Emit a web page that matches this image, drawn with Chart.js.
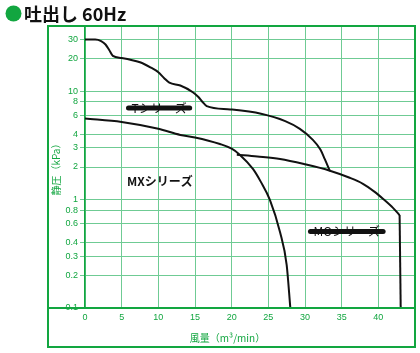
<!DOCTYPE html>
<html>
<head>
<meta charset="utf-8">
<script src="https://cdn.jsdelivr.net/npm/chart.js@4/dist/chart.umd.min.js"></script>
<style>
  html, body { margin: 0; padding: 0; background: #fff; }
</style>
</head>
<body>
<canvas id="grafico" width="420" height="353"></canvas>
<script>
// dados (vazão m3/min x pressão kPa)
const tX = [0, 1.4, 2.2, 2.8, 3.3, 3.8, 5, 7.5, 9, 10, 10.8, 11.5, 13, 14.7, 15.5, 16, 16.6, 19.8, 24, 27.3, 29.3, 31, 32.1, 32.7, 33.4];
const tY = [30, 30, 29, 27, 24, 21.2, 20.3, 18.5, 16.5, 15, 13.2, 12, 11.3, 9.8, 8.8, 8, 7.3, 6.8, 6.2, 5.3, 4.5, 3.6, 2.9, 2.36, 1.83];

const mxX = [0, 5, 10, 13, 15, 18.4, 20, 21.1, 22.9, 24, 25.2, 26.6, 27.5, 28];
const mxY = [5.6, 5.2, 4.5, 3.95, 3.75, 3.26, 2.95, 2.6, 1.92, 1.45, 1.0, 0.5, 0.25, 0.1];

const moX = [20.7, 23.5, 26.6, 30, 33.4, 36, 37.9, 39.5, 40.7, 42, 42.9, 43.05];
const moY = [2.6, 2.5, 2.37, 2.12, 1.85, 1.6, 1.4, 1.18, 1.01, 0.84, 0.72, 0.1];

const yTicks = [0.1, 0.2, 0.3, 0.4, 0.6, 0.8, 1, 2, 3, 4, 6, 8, 10, 20, 30];

const rotulos = ['Tシリーズ', 'MXシリーズ', 'MOシリーズ'];
const rotuloX = [10.1, 10.2, 35.7];
const rotuloY = [7.0, 1.46, 0.507];

const verde = '#12a640';
const verdeGrade = '#6fcb94';
const fonteJP = '"Noto Sans CJK JP", "Liberation Sans", sans-serif';

function pontos(xs, ys) {
  return xs.map((x, i) => ({x: x, y: ys[i]}));
}

function linha(xs, ys, tensao) {
  return {
    data: pontos(xs, ys),
    showLine: true,
    borderColor: '#111',
    borderWidth: 2,
    pointRadius: 0,
    cubicInterpolationMode: tensao === 0 ? 'default' : 'monotone',
    tension: 0,
    fill: false
  };
}

// titulo + moldura + rotulos das séries
const extras = {
  id: 'extras',
  afterDatasetsDraw(chart) {
    const ctx = chart.ctx;
    const sx = chart.scales.x, sy = chart.scales.y;
    ctx.save();
    ctx.textAlign = 'center';
    ctx.textBaseline = 'middle';
    ctx.fillStyle = '#111';
    rotulos.forEach((txt, i) => {
      const px = sx.getPixelForValue(rotuloX[i]);
      const py = sy.getPixelForValue(rotuloY[i]);
      ctx.font = (i === 1 ? 'bold ' : '') + '12px ' + fonteJP;
      ctx.fillText(txt, px, py);
      if (i !== 1) {
        const w = ctx.measureText(txt).width / 2 + 3;
        ctx.strokeStyle = '#111';
        ctx.lineWidth = 5;
        ctx.lineCap = 'round';
        ctx.beginPath();
        ctx.moveTo(px - w, py);
        ctx.lineTo(px + w, py);
        ctx.stroke();
      }
    });
    ctx.restore();
  },
  afterDraw(chart) {
    const ctx = chart.ctx;
    const a = chart.chartArea;
    const baixo = chart.scales.x.bottom;
    ctx.save();
    ctx.strokeStyle = verde;
    ctx.lineWidth = 2;
    ctx.strokeRect(48, a.top, a.right - 48, baixo - a.top);
    ctx.beginPath();
    ctx.moveTo(48, a.bottom);
    ctx.lineTo(a.right, a.bottom);
    ctx.stroke();

    ctx.fillStyle = verde;
    ctx.beginPath();
    ctx.arc(13.5, 13.5, 8, 0, Math.PI * 2);
    ctx.fill();
    ctx.fillStyle = '#111';
    ctx.font = 'bold 18px ' + fonteJP;
    ctx.textAlign = 'left';
    ctx.textBaseline = 'middle';
    ctx.fillText('吐出し 60Hz', 24, 14);
    ctx.restore();
  }
};

var ctx = document.getElementById('grafico').getContext('2d');
var grafico = new Chart(ctx, {
  type: 'scatter',
  data: {
    datasets: [
      linha(tX, tY),
      linha(mxX, mxY),
      linha(moX.slice(0, -1), moY.slice(0, -1)),
      linha(moX.slice(-2), moY.slice(-2), 0)
    ]
  },
  options: {
    responsive: false,
    animation: false,
    layout: { padding: { top: 26, right: 5, bottom: 6, left: 0 } },
    plugins: { legend: { display: false }, tooltip: { enabled: false } },
    scales: {
      x: {
        type: 'linear',
        min: 0,
        max: 45,
        afterFit: s => { s.height = 39; },
        ticks: {
          stepSize: 5,
          color: verde,
          padding: 4,
          font: { size: 9, family: '"Liberation Sans", sans-serif' },
          callback: v => v > 40 ? '' : v
        },
        grid: { color: verdeGrade, lineWidth: 1, drawTicks: false },
        border: { display: false },
        title: {
          display: true,
          text: '風量（m³/min）\u3000\u3000\u3000\u3000\u3000',
          color: verde,
          font: { size: 10, family: fonteJP },
          padding: { top: 0, bottom: 3 }
        }
      },
      y: {
        type: 'logarithmic',
        min: 0.1,
        max: 40,
        afterFit: s => { s.width = 85; },
        afterBuildTicks: s => { s.ticks = yTicks.map(v => ({value: v})); },
        ticks: {
          color: verde,
          padding: 2,
          autoSkip: false,
          font: { size: 9, family: '"Liberation Sans", sans-serif' },
          callback: v => String(v)
        },
        grid: { color: verdeGrade, lineWidth: 1, tickLength: 5 },
        border: { display: true, color: verde, width: 1.5 },
        title: {
          display: true,
          text: '静圧（kPa）',
          color: verde,
          font: { size: 10, family: fonteJP },
          padding: { top: 50, bottom: 0 }
        }
      }
    }
  },
  plugins: [extras]
});
</script>
</body>
</html>
